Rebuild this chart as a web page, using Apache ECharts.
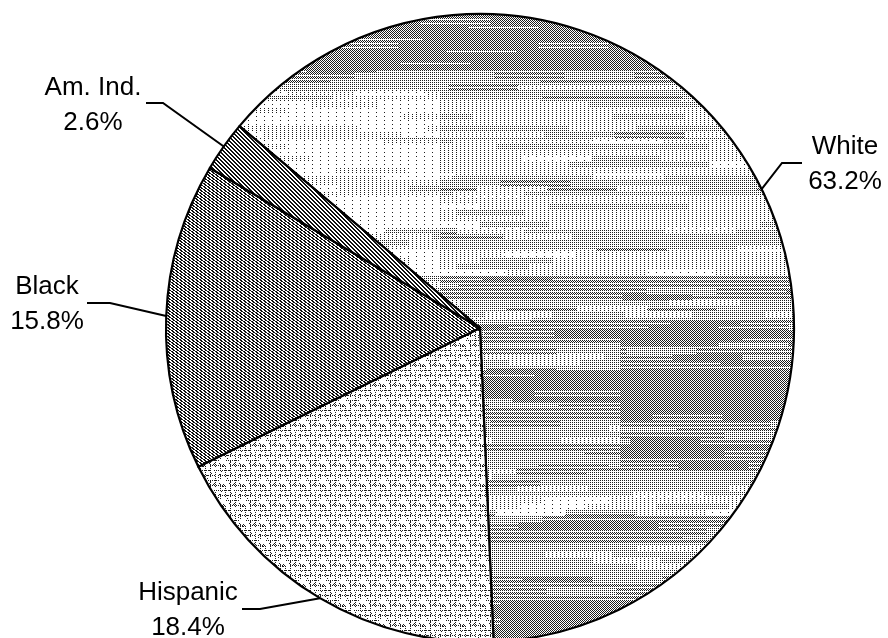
<!DOCTYPE html>
<html>
<head>
<meta charset="utf-8">
<script src="https://cdn.jsdelivr.net/npm/echarts@6/dist/echarts.min.js"></script>
<style>
html,body{margin:0;padding:0;background:#fff;}
#chart{width:888px;height:638px;}
</style>
</head>
<body>
<div id="chart"></div>
<script>
// ---- data ----
const categories = ['White', 'Hispanic', 'Black', 'Am. Ind.'];
const values = [63.2, 18.4, 15.8, 2.6];

// ---- texture helpers (styling only) ----
function makeCanvas(w, h, fn) {
  const c = document.createElement('canvas');
  c.width = w; c.height = h;
  const ctx = c.getContext('2d');
  const img = ctx.createImageData(w, h);
  for (let y = 0; y < h; y++) {
    for (let x = 0; x < w; x++) {
      const v = fn(x, y);
      const i = (y * w + x) * 4;
      img.data[i] = v; img.data[i + 1] = v; img.data[i + 2] = v; img.data[i + 3] = 255;
    }
  }
  ctx.putImageData(img, 0, 0);
  return c;
}
function hash(a, b) {
  const s = Math.sin(a * 12.9898 + b * 78.233) * 43758.5453;
  return s - Math.floor(s);
}
// black: diagonal hatch (~37 deg)
const blackTex = makeCanvas(4, 3, (x, y) => ((((4 * y - 3 * x) % 12) + 12) % 12) < 6 ? 15 : 255);
// am. ind.: 45 degree hatch
const amindTex = makeCanvas(4, 4, (x, y) => (((x - y) % 4 + 4) % 4) < 2 ? 15 : 255);
// hispanic: light dotted grid weave
const hispTex = makeCanvas(20, 20, (x, y) => {
  let d = ((x % 5 === 0) && (y % 2 === 0)) || ((y % 5 === 0) && (x % 2 === 0));
  if (hash(x, y) < 0.07) d = true;
  if (d && hash(y, x) < 0.25) d = false;
  return d ? 30 : 255;
});
// white: banded halftone texture
const whiteBands = [[0,4],[70,3],[85,2],[100,1],[125,2],[140,1],[175,2],[195,1],[230,2],[250,1],[275,3],[300,2],[320,3],[345,2],[370,4],[400,3],[420,2],[445,3],[470,2],[495,1],[515,3],[545,2],[575,3],[600,4]];
function bandLevel(y) {
  let l = 0;
  for (const b of whiteBands) if (y >= b[0]) l = b[1];
  return l;
}
const whiteTex = makeCanvas(888, 638, (x, y) => {
  let lv = bandLevel(y);
  const row = Math.floor(y / 6);
  const seg = Math.floor((x + row * 23) / 70);
  const r = hash(seg, row);
  if (r < 0.18) lv -= 1; else if (r > 0.88) lv += 1;
  if (x < 440 && y > 90 && y < 330) lv -= 1;
  if (x > 620 && y > 330 && y < 470) lv += 1;
  lv = Math.max(0, Math.min(4, lv));
  let d;
  if (lv >= 4) d = (x + y) % 2 === 0;
  else if (lv === 3) d = (x + y) % 2 === 0 && y % 4 !== 3;
  else if (lv === 2) d = x % 2 === 0 && y % 2 === 0;
  else if (lv === 1) d = x % 4 === 0 && y % 2 === 0;
  else d = x % 8 === 0 && y % 4 === 0;
  return d ? 30 : 255;
});
const textures = [whiteTex, hispTex, blackTex, amindTex];

// ---- label placement (annotation layout) ----
const labelLayoutCfg = [
  { x: 845, y: 164, elbow: [782, 163], end: [802, 163] },
  { x: 188, y: 610, elbow: [260, 609], end: [242, 609] },
  { x: 47,  y: 304, elbow: [110, 303], end: [87, 303] },
  { x: 93,  y: 105, elbow: [163, 103], end: [146, 103] }
];
const CX = 480, CY = 328, R = 314, START = 140;

const chart = echarts.init(document.getElementById('chart'), null, { renderer: 'canvas' });
const total = values.reduce((a, b) => a + b, 0);
function edgePoint(idx) {
  let acc = 0;
  for (let i = 0; i < idx; i++) acc += values[i];
  const mid = START - (acc + values[idx] / 2) / total * 360;
  const a = mid * Math.PI / 180;
  return [CX + R * Math.cos(a), CY - R * Math.sin(a)];
}

chart.setOption({
  animation: false,
  backgroundColor: '#fff',
  series: [{
    type: 'pie',
    center: [CX, CY],
    radius: R,
    startAngle: START,
    clockwise: true,
    avoidLabelOverlap: false,
    silent: true,
    itemStyle: { borderColor: '#000', borderWidth: 2.2 },
    label: {
      show: true,
      color: '#000',
      fontSize: 26,
      lineHeight: 35,
      fontFamily: '"Liberation Sans", Arial, Helvetica, sans-serif',
      align: 'center',
      formatter: p => p.name + '\n' + p.value.toFixed(1) + '%'
    },
    labelLine: { show: true, lineStyle: { color: '#000', width: 2 } },
    labelLayout: function (params) {
      const cfg = labelLayoutCfg[params.dataIndex];
      return {
        x: cfg.x, y: cfg.y, align: 'center', verticalAlign: 'middle',
        labelLinePoints: [edgePoint(params.dataIndex), cfg.elbow, cfg.end]
      };
    },
    data: categories.map((c, i) => ({
      name: c,
      value: values[i],
      itemStyle: { color: { image: textures[i], repeat: 'repeat' } }
    }))
  }]
});
</script>
</body>
</html>
